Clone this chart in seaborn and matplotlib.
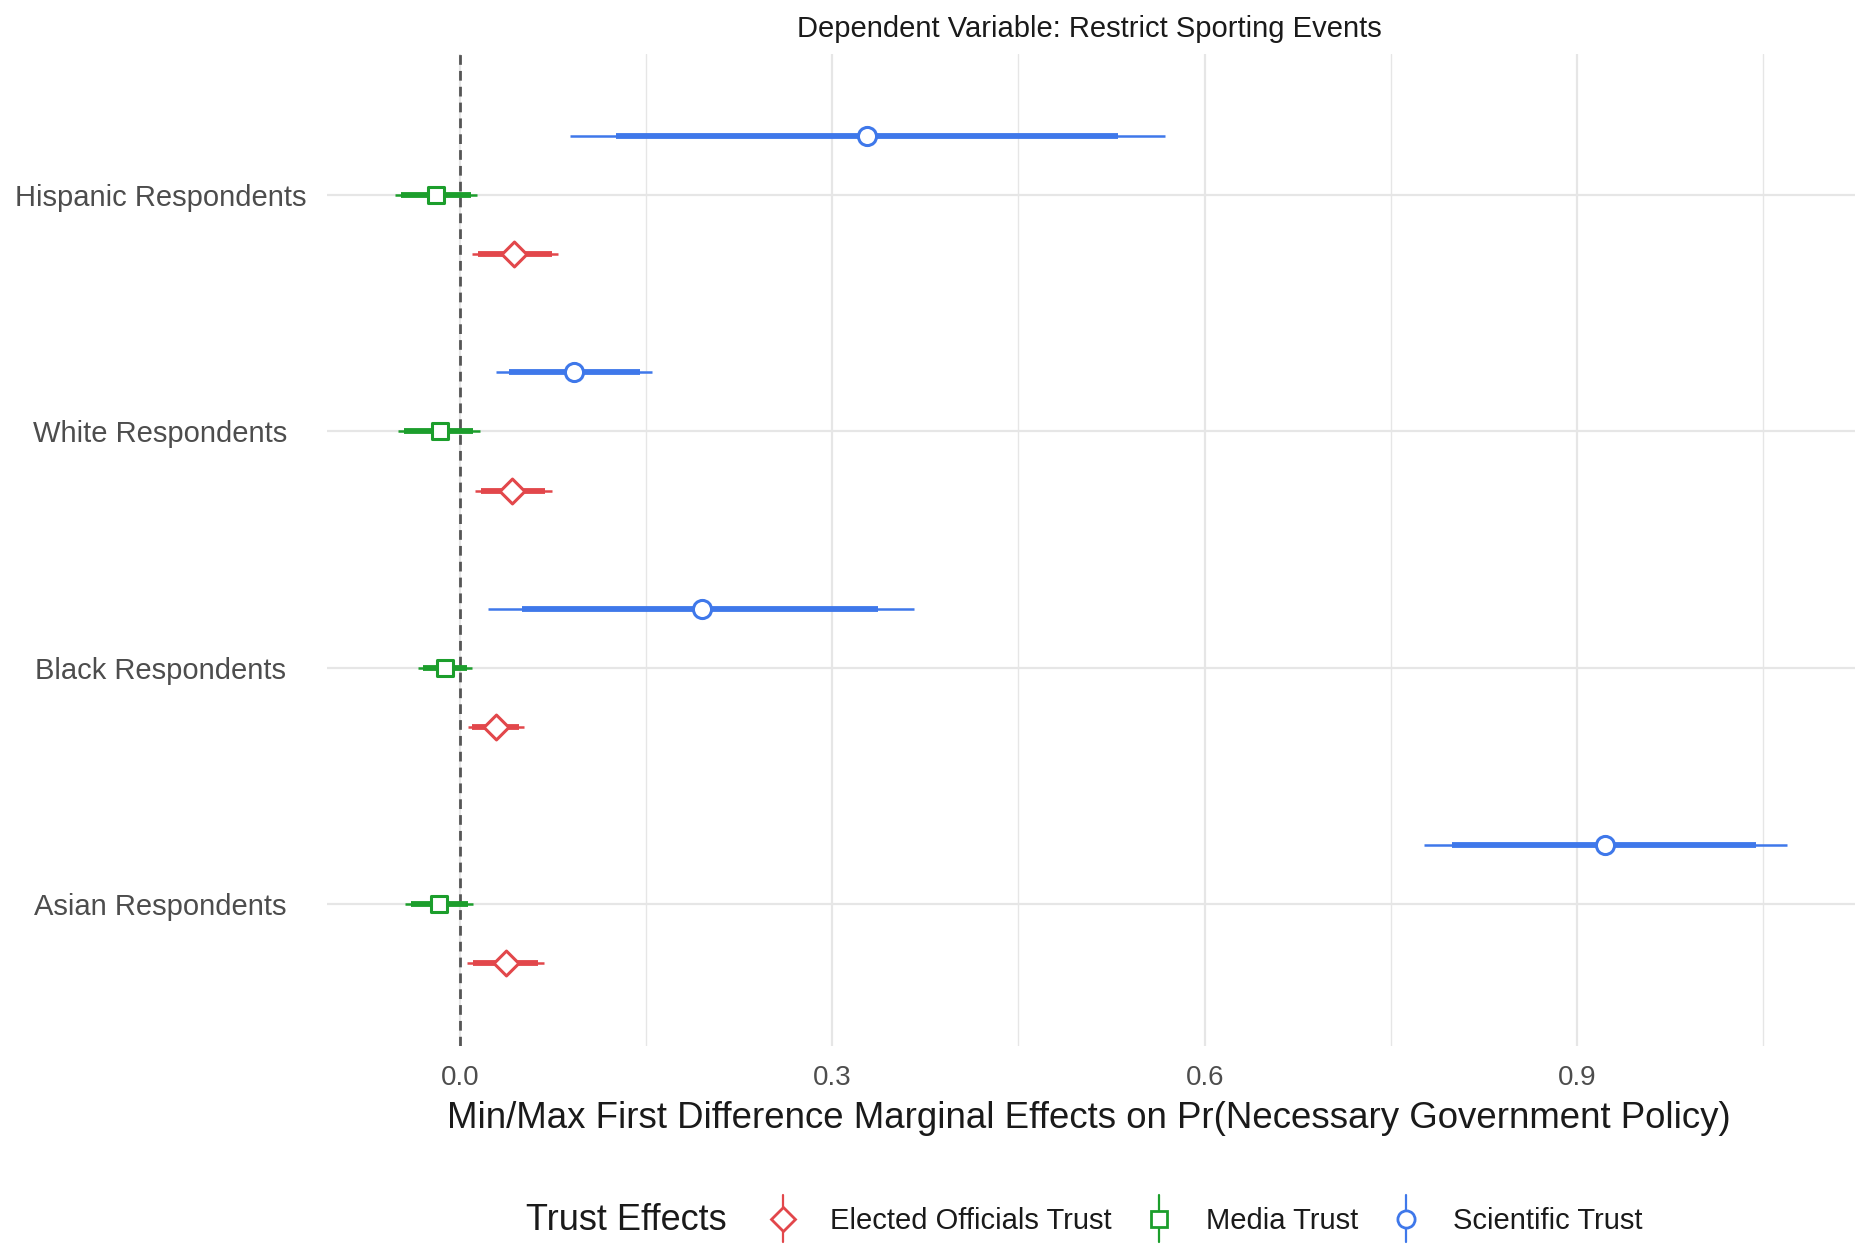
import numpy as np
import pandas as pd
import matplotlib
matplotlib.use("Agg")
import matplotlib.pyplot as plt
import seaborn as sns
from matplotlib.lines import Line2D
from matplotlib.legend_handler import HandlerBase

# ---------------- data ----------------
groups = ["Hispanic Respondents", "White Respondents", "Black Respondents", "Asian Respondents"]

sci_est  = [0.328, 0.092, 0.195, 0.922]
sci_lo95 = [0.089, 0.029, 0.023, 0.777]
sci_hi95 = [0.568, 0.155, 0.366, 1.069]
sci_lo90 = [0.126, 0.040, 0.050, 0.799]
sci_hi90 = [0.530, 0.145, 0.337, 1.044]

med_est  = [-0.019, -0.016, -0.012, -0.017]
med_lo95 = [-0.052, -0.050, -0.034, -0.044]
med_hi95 = [0.014, 0.016, 0.010, 0.011]
med_lo90 = [-0.047, -0.045, -0.030, -0.039]
med_hi90 = [0.009, 0.011, 0.006, 0.007]

ele_est  = [0.044, 0.042, 0.029, 0.037]
ele_lo95 = [0.010, 0.012, 0.007, 0.006]
ele_hi95 = [0.079, 0.074, 0.052, 0.068]
ele_lo90 = [0.015, 0.017, 0.010, 0.011]
ele_hi90 = [0.074, 0.069, 0.048, 0.063]

effects = ["Elected Officials Trust", "Media Trust", "Scientific Trust"]
colors = {"Elected Officials Trust": "#E2474B",
          "Media Trust": "#1C9E2C",
          "Scientific Trust": "#3F78EA"}
markers = {"Elected Officials Trust": "D",
           "Media Trust": "s",
           "Scientific Trust": "o"}
msizes = {"Elected Officials Trust": 160,
          "Media Trust": 130,
          "Scientific Trust": 170}
offsets = {"Scientific Trust": -0.25, "Media Trust": 0.0, "Elected Officials Trust": 0.25}

series = {
    "Scientific Trust": (sci_est, sci_lo95, sci_hi95, sci_lo90, sci_hi90),
    "Media Trust": (med_est, med_lo95, med_hi95, med_lo90, med_hi90),
    "Elected Officials Trust": (ele_est, ele_lo95, ele_hi95, ele_lo90, ele_hi90),
}

rows = []
for eff, (est, lo95, hi95, lo90, hi90) in series.items():
    for i, g in enumerate(groups):
        rows.append(dict(group=g, effect=eff, est=est[i], lo95=lo95[i], hi95=hi95[i],
                         lo90=lo90[i], hi90=hi90[i], ypos=i + offsets[eff]))
df = pd.DataFrame(rows)

# ---------------- style ----------------
sns.set_theme(style="whitegrid")
plt.rcParams["font.family"] = ["Liberation Sans", "DejaVu Sans"]

fig = plt.figure(figsize=(18.65, 12.51), dpi=100)
ax = fig.add_axes([0.1753, 0.1642, 0.8195, 0.793])
ax.set_facecolor("white")

# grid
ax.set_xlim(-0.107, 1.124)
ax.set_ylim(3.6, -0.6)
ax.set_xticks([0.0, 0.3, 0.6, 0.9])
ax.set_xticks([0.15, 0.45, 0.75, 1.05], minor=True)
ax.set_yticks(range(len(groups)))
ax.set_yticklabels(groups)
ax.grid(False)
ax.grid(which="major", axis="both", color="#E6E6E6", lw=1.6, zorder=0)
ax.grid(which="minor", axis="x", color="#E6E6E6", lw=1.0, zorder=0)
ax.set_axisbelow(True)
for s in ax.spines.values():
    s.set_visible(False)

ax.axvline(0, color="#555555", lw=2.0, ls=(0, (3.5, 2.2)), zorder=1.5)

# intervals
for eff in effects:
    sub = df[df.effect == eff]
    ax.hlines(sub.ypos, sub.lo95, sub.hi95, color=colors[eff], lw=1.8, zorder=2)
    ax.hlines(sub.ypos, sub.lo90, sub.hi90, color=colors[eff], lw=4.2, zorder=2)

# points via seaborn
for eff in effects:
    sub = df[df.effect == eff]
    sns.scatterplot(data=sub, x="est", y="ypos", marker=markers[eff], s=msizes[eff],
                    facecolor="white", edgecolor=colors[eff], linewidth=2.2,
                    ax=ax, legend=False, zorder=3)

ax.set_xlabel("")
ax.set_ylabel("")
ax.tick_params(axis="both", length=0)
ax.tick_params(axis="x", labelsize=20, labelcolor="#4D4D4D", pad=14)
ax.tick_params(axis="y", labelsize=21, labelcolor="#4D4D4D", pad=120)
for lab in ax.get_yticklabels():
    lab.set_ha("center")

fig.text(0.584, 0.977, "Dependent Variable: Restrict Sporting Events",
         ha="center", va="center", fontsize=21, color="#1A1A1A")
fig.text(0.584, 0.106,
         "Min/Max First Difference Marginal Effects on Pr(Necessary Government Policy)",
         ha="center", va="center", fontsize=26.4, color="#1A1A1A")

# legend
class VKeyHandler(HandlerBase):
    def create_artists(self, legend, orig_handle, xdescent, ydescent, width, height,
                       fontsize, trans):
        eff = orig_handle.get_label()
        cx = width / 2 - xdescent
        cy = height / 2 - ydescent
        line = Line2D([cx, cx], [cy - 17, cy + 17], color=colors[eff], lw=1.6)
        mk = Line2D([cx], [cy], marker=markers[eff], markersize=np.sqrt(msizes[eff]) * 0.95,
                    markerfacecolor="white", markeredgecolor=colors[eff],
                    markeredgewidth=2.0, ls="none")
        line.set_transform(trans)
        mk.set_transform(trans)
        return [line, mk]

handles = [Line2D([], [], label=e) for e in effects]
fig.text(0.282, 0.024, "Trust Effects", ha="left", va="center", fontsize=26, color="#1A1A1A")
fig.legend(handles=handles, labels=effects, loc="center left",
           bbox_to_anchor=(0.4026, 0.024), ncol=3, frameon=False, fontsize=21,
           handlelength=1.2, handletextpad=1.0, columnspacing=1.05, borderpad=0,
           handler_map={Line2D: VKeyHandler()}, labelcolor="#1A1A1A")

fig.savefig("out.png", dpi=100, facecolor="white")
